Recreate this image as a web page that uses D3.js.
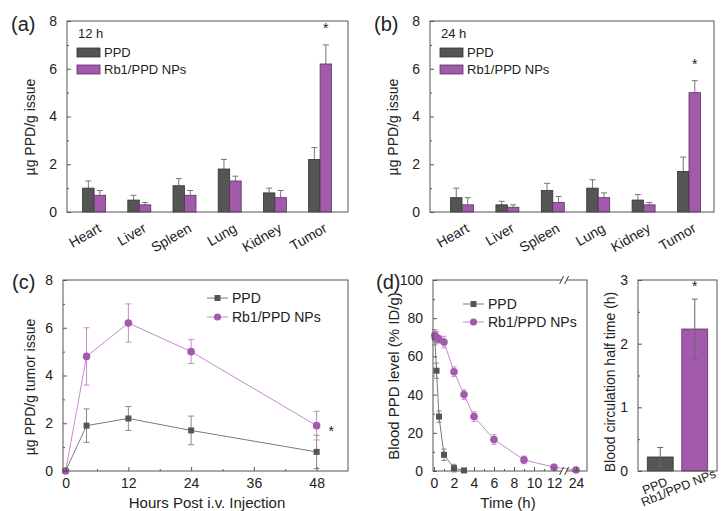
<!DOCTYPE html>
<html><head><meta charset="utf-8">
<script src="https://cdn.jsdelivr.net/npm/d3@7"></script>
<style>
body{margin:0;background:#fff}
text{font-family:"Liberation Sans",Arial,sans-serif;fill:#222}
</style>
</head><body><svg id="fig" width="722" height="511"></svg>
<script>
// data
const organs = ["Heart", "Liver", "Spleen", "Lung", "Kidney", "Tumor"];
const series = ["PPD", "Rb1/PPD NPs"];
const ppd12 = [1.0, 0.5, 1.1, 1.8, 0.8, 2.2];
const ppd12Err = [0.3, 0.2, 0.3, 0.4, 0.2, 0.5];
const np12 = [0.7, 0.3, 0.7, 1.3, 0.6, 6.2];
const np12Err = [0.2, 0.1, 0.2, 0.2, 0.3, 0.8];
const ppd24 = [0.6, 0.3, 0.9, 1.0, 0.5, 1.7];
const ppd24Err = [0.4, 0.15, 0.3, 0.35, 0.23, 0.6];
const np24 = [0.3, 0.2, 0.4, 0.6, 0.3, 5.0];
const np24Err = [0.3, 0.1, 0.25, 0.2, 0.1, 0.5];
const tumorHours = [0, 4, 12, 24, 48];
const tumorPPD = [0, 1.9, 2.2, 1.7, 0.8];
const tumorPPDErr = [0, 0.7, 0.5, 0.6, 0.7];
const tumorNP = [0, 4.8, 6.2, 5.0, 1.9];
const tumorNPErr = [0, 1.2, 0.8, 0.5, 0.6];
const bloodHoursPPD = [0.083, 0.25, 0.5, 1, 2, 3];
const bloodPPD = [70, 52.5, 28.5, 8.5, 1.5, 0.3];
const bloodPPDErr = [4, 4, 3, 3, 2, 0.5];
const bloodHoursNP = [0.083, 0.25, 0.5, 1, 2, 3, 4, 6, 9, 12, 24];
const bloodNP = [71, 70, 69, 67.5, 52, 40, 28.5, 16.5, 5.8, 2, 0.5];
const bloodNPErr = [3, 3, 2, 3, 2.5, 2.5, 2.5, 2.5, 2, 1.5, 0.5];
const halfLife = [0.22, 2.23];
const halfLifeErr = [0.15, 0.47];

const cPPD = "#555555", cNP = "#a25aab";
const cPPDline = "#7a7a7a", cNPline = "#c48ccb";

const svg = d3.select("#fig");

function frame(x0, x1, y0, y1) {
  svg.append("rect")
    .attr("x", x0).attr("y", y0)
    .attr("width", x1 - x0).attr("height", y1 - y0)
    .attr("fill", "none").attr("stroke", "#555").attr("stroke-width", 1);
}

function yAxis(y, x0, ticks, minor) {
  const g = svg.append("g").attr("transform", `translate(${x0},0)`);
  g.call(d3.axisLeft(y).tickValues(ticks).tickSize(-4).tickPadding(10).tickFormat(d3.format("d")));
  if (minor) g.call(a => a.append("g").call(d3.axisLeft(y).tickValues(minor).tickSize(-2).tickFormat("")));
  g.selectAll(".domain").remove();
  g.selectAll("line").attr("stroke", "#555");
  g.selectAll("text").style("font-size", "14px").attr("fill", "#222");
  return g;
}

function yTitle(txt, x, y, size) {
  svg.append("text")
    .attr("transform", `translate(${x},${y}) rotate(-90)`)
    .attr("text-anchor", "middle")
    .style("font-size", size + "px")
    .text(txt);
}

function panelLabel(txt, x, y) {
  svg.append("text").attr("x", x).attr("y", y).style("font-size", "20px").text(txt);
}

// ---------- bar panels (a) and (b)
function barPanel(x0, x1, range, vals, errs, hours, lbl) {
  const y = d3.scaleLinear().domain([0, 8]).range([212, 21]);
  const x = d3.scaleBand().domain(organs).range(range).padding(0);
  const xs = d3.scaleBand().domain(series).range([-11.5, 11.5]);

  organs.forEach((o, i) => {
    series.forEach((s, k) => {
      const v = vals[k][i], e = errs[k][i];
      const bx = x(o) + x.bandwidth() / 2 + xs(s);
      const cx = bx + xs.bandwidth() / 2;
      svg.append("line")
        .attr("x1", cx).attr("x2", cx)
        .attr("y1", y(v)).attr("y2", y(v + e))
        .attr("stroke", "#777");
      svg.append("line")
        .attr("x1", cx - 3).attr("x2", cx + 3)
        .attr("y1", y(v + e)).attr("y2", y(v + e))
        .attr("stroke", "#777");
      svg.append("rect")
        .attr("x", bx).attr("y", y(v))
        .attr("width", xs.bandwidth()).attr("height", y(0) - y(v))
        .attr("fill", k ? cNP : cPPD)
        .attr("stroke", k ? "#5e2f66" : "#333").attr("stroke-width", 0.8);
    });
    svg.append("text")
      .attr("transform", `translate(${x(o) + x.bandwidth() / 2 + 8},231) rotate(-30)`)
      .attr("text-anchor", "end")
      .style("font-size", "14px")
      .text(o);
  });

  frame(x0, x1, 21, 212);
  yAxis(y, x0, [0, 2, 4, 6, 8], [1, 3, 5, 7]);

  // star over tumor NP bar
  const ti = organs.length - 1;
  svg.append("text")
    .attr("x", x(organs[ti]) + x.bandwidth() / 2 + xs(series[1]) + xs.bandwidth() / 2)
    .attr("y", y(vals[1][ti] + errs[1][ti]) - 12)
    .attr("text-anchor", "middle").style("font-size", "14px").text("*");

  // legend
  const lx = x0 + 10;
  svg.append("text").attr("x", lx + 1).attr("y", 38).style("font-size", "13px").text(hours);
  series.forEach((s, k) => {
    svg.append("rect")
      .attr("x", lx).attr("y", 48 + k * 17)
      .attr("width", 23).attr("height", 9)
      .attr("fill", k ? cNP : cPPD)
      .attr("stroke", k ? "#5e2f66" : "#333").attr("stroke-width", 0.8);
    svg.append("text").attr("x", lx + 27).attr("y", 57 + k * 17)
      .style("font-size", "13px").text(s);
  });

  panelLabel(lbl, x0 - 56, 31);
  yTitle("µg PPD/g issue", x0 - 32, 127, 14);
}

barPanel(67, 348, [71.5, 342.7], [ppd12, np12], [ppd12Err, np12Err], "12 h", "(a)");
barPanel(430, 714, [439.3, 711.7], [ppd24, np24], [ppd24Err, np24Err], "24 h", "(b)");

// ---------- helpers for line series
function errBars(xf, y, xsArr, vals, errs, color, cap) {
  xsArr.forEach((t, i) => {
    if (!errs[i]) return;
    const cx = xf(t);
    svg.append("line").attr("x1", cx).attr("x2", cx)
      .attr("y1", y(vals[i] - errs[i])).attr("y2", y(vals[i] + errs[i]))
      .attr("stroke", color);
    [vals[i] - errs[i], vals[i] + errs[i]].forEach(v => {
      svg.append("line").attr("x1", cx - cap).attr("x2", cx + cap)
        .attr("y1", y(v)).attr("y2", y(v)).attr("stroke", color);
    });
  });
}

function lineSeries(xf, y, xsArr, vals, color, marker, mcolor) {
  const pts = xsArr.map((t, i) => [xf(t), y(vals[i])]);
  svg.append("path").attr("d", d3.line()(pts))
    .attr("fill", "none").attr("stroke", color).attr("stroke-width", 1);
  pts.forEach(p => {
    if (marker === "square") {
      svg.append("rect").attr("x", p[0] - 3).attr("y", p[1] - 3)
        .attr("width", 6).attr("height", 6).attr("fill", mcolor);
    } else {
      svg.append("circle").attr("cx", p[0]).attr("cy", p[1]).attr("r", 3.8).attr("fill", mcolor);
    }
  });
}

function lineLegend(x, y0, gap) {
  series.forEach((s, k) => {
    const yy = y0 + k * gap;
    svg.append("line").attr("x1", x).attr("x2", x + 21).attr("y1", yy).attr("y2", yy)
      .attr("stroke", k ? cNPline : cPPDline);
    if (k) svg.append("circle").attr("cx", x + 10.5).attr("cy", yy).attr("r", 3.6).attr("fill", cNP);
    else svg.append("rect").attr("x", x + 7.5).attr("y", yy - 3).attr("width", 6).attr("height", 6).attr("fill", cPPD);
    svg.append("text").attr("x", x + 25).attr("y", yy + 5).style("font-size", "14px").text(s);
  });
}

// ---------- panel (c)
{
  const x = d3.scaleLinear().domain([-0.5, 54]).range([63, 348]);
  const y = d3.scaleLinear().domain([0, 8]).range([471, 280]);
  errBars(x, y, tumorHours, tumorPPD, tumorPPDErr, "#888", 3);
  errBars(x, y, tumorHours, tumorNP, tumorNPErr, cNPline, 3);
  lineSeries(x, y, tumorHours, tumorPPD, cPPDline, "square", cPPD);
  lineSeries(x, y, tumorHours, tumorNP, cNPline, "circle", cNP);
  frame(63, 348, 280, 471);
  yAxis(y, 63, [0, 2, 4, 6, 8], [1, 3, 5, 7]);
  const gx = svg.append("g").attr("transform", "translate(0,471)");
  gx.call(d3.axisBottom(x).tickValues([0, 12, 24, 36, 48]).tickSize(-4).tickPadding(7));
  gx.append("g").call(d3.axisBottom(x).tickValues([6, 18, 30, 42]).tickSize(-2).tickFormat(""));
  gx.selectAll(".domain").remove();
  gx.selectAll("line").attr("stroke", "#555");
  gx.selectAll("text").style("font-size", "14px").attr("fill", "#222");
  svg.append("text").attr("x", x(48) + 12).attr("y", y(tumorNP[4]) + 10)
    .style("font-size", "14px").text("*");
  lineLegend(207, 298, 19);
  panelLabel("(c)", 12, 289);
  yTitle("µg PPD/g tumor issue", 35, 387, 14);
  svg.append("text").attr("x", 207).attr("y", 508).attr("text-anchor", "middle")
    .style("font-size", "15px").text("Hours Post i.v. Injection");
}

// ---------- panel (d) blood curve with broken axis
{
  const x = d3.scaleLinear().domain([-0.1, 13, 23, 25.1]).range([433, 564, 566, 587]);
  const y = d3.scaleLinear().domain([0, 100]).range([471, 280]);
  errBars(x, y, bloodHoursPPD, bloodPPD, bloodPPDErr, "#888", 2.5);
  errBars(x, y, bloodHoursNP, bloodNP, bloodNPErr, cNPline, 2.5);
  lineSeries(x, y, bloodHoursPPD, bloodPPD, cPPDline, "square", cPPD);
  lineSeries(x, y, bloodHoursNP, bloodNP, cNPline, "circle", cNP);
  frame(433, 587, 280, 471);
  yAxis(y, 433, [0, 20, 40, 60, 80, 100], [10, 30, 50, 70, 90]);
  const gx = svg.append("g").attr("transform", "translate(0,471)");
  gx.call(d3.axisBottom(x).tickValues([0, 2, 4, 6, 8, 10, 12, 24]).tickSize(-4).tickPadding(7));
  gx.append("g").call(d3.axisBottom(x).tickValues([1, 3, 5, 7, 9, 11]).tickSize(-2).tickFormat(""));
  gx.selectAll(".domain").remove();
  gx.selectAll("line").attr("stroke", "#555");
  gx.selectAll("text").style("font-size", "14px").attr("fill", "#222");
  // break marks
  const bx = x(13.6);
  [471, 280].forEach(yy => {
    svg.append("rect").attr("x", bx - 2.5).attr("y", yy - 1.5).attr("width", 5).attr("height", 3).attr("fill", "#fff");
    [-2.5, 2.5].forEach(d => {
      svg.append("line").attr("x1", bx + d - 2).attr("x2", bx + d + 2)
        .attr("y1", yy + 4).attr("y2", yy - 4).attr("stroke", "#333");
    });
  });
  lineLegend(463, 304, 18);
  panelLabel("(d)", 376, 289);
  yTitle("Blood PPD level (% ID/g)", 399, 376, 15);
  svg.append("text").attr("x", 508).attr("y", 508).attr("text-anchor", "middle")
    .style("font-size", "15px").text("Time (h)");
}

// ---------- panel (d) half-life bars
{
  const x = d3.scaleBand().domain(series).range([643, 712]).paddingInner(0.25).paddingOuter(0.125);
  const y = d3.scaleLinear().domain([0, 3]).range([471, 280]);
  series.forEach((s, k) => {
    svg.append("rect")
      .attr("x", x(s)).attr("y", y(halfLife[k]))
      .attr("width", x.bandwidth()).attr("height", y(0) - y(halfLife[k]))
      .attr("fill", k ? cNP : cPPD)
      .attr("stroke", k ? "#5e2f66" : "#333").attr("stroke-width", 0.8);
  });
  errBars(d => x(d) + x.bandwidth() / 2, y, series, halfLife, halfLifeErr, "#666", 3);
  frame(638, 717, 280, 471);
  yAxis(y, 638, [0, 1, 2, 3], [0.5, 1.5, 2.5]);
  series.forEach((s, k) => {
    svg.append("text")
      .attr("transform", `translate(${x(s) + x.bandwidth() / 2 + 8 + k * 14},${485 - k * 8}) rotate(-22)`)
      .attr("text-anchor", "end")
      .style("font-size", "12.5px").text(s);
  });
  svg.append("text").attr("x", x(series[1]) + x.bandwidth() / 2)
    .attr("y", y(halfLife[1] + halfLifeErr[1]) - 8)
    .attr("text-anchor", "middle").style("font-size", "14px").text("*");
  yTitle("Blood circulation half time (h)", 615, 382, 14);
}
</script>
</body></html>
